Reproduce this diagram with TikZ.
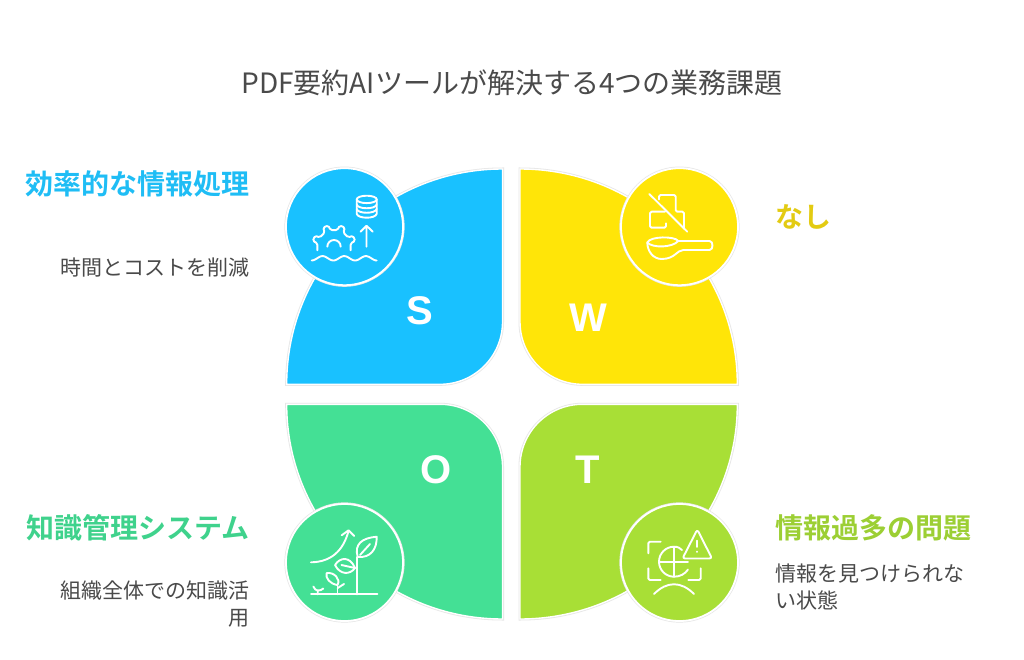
\documentclass[tikz,border=0pt]{standalone}
\usepackage{fontspec}
\setmainfont{Noto Sans CJK JP}
\newfontfamily\jp[BoldFont={Noto Sans CJK JP Bold}]{Noto Sans CJK JP}
\newfontfamily\latinb[BoldFont={Liberation Sans Bold}]{Liberation Sans}
\definecolor{cS}{HTML}{19C1FF}
\definecolor{cW}{HTML}{FFE508}
\definecolor{cO}{HTML}{44E095}
\definecolor{cT}{HTML}{A8DF36}
\definecolor{tS}{HTML}{1FBDF5}
\definecolor{tW}{HTML}{E3CB12}
\definecolor{tO}{HTML}{3FD28C}
\definecolor{tT}{HTML}{9CCF34}
\definecolor{ink}{HTML}{4A4A4A}
\definecolor{halo}{HTML}{E6E6E6}
\tikzset{
  leaf/.style={fill=#1,draw=white,line width=1.4pt,preaction={draw=halo,line width=3pt}},
  badge/.style={circle,minimum size=117pt,inner sep=0pt,fill=#1,draw=white,line width=1.8pt,preaction={draw=halo,line width=3.2pt}},
  ico/.style={draw=white,line width=1.9pt,line cap=round,line join=round},
  letter/.style={text=white,inner sep=0pt,font=\latinb\bfseries\fontsize{40}{40}\selectfont},
  head/.style={inner sep=0pt,anchor=west,font=\jp\bfseries\fontsize{28}{34}\selectfont},
  headr/.style={inner sep=0pt,anchor=east,font=\jp\bfseries\fontsize{28}{34}\selectfont},
  body/.style={inner sep=0pt,text=ink,font=\jp\fontsize{21}{27}\selectfont},
}
\begin{document}
\begin{tikzpicture}[x=1pt,y=-1pt]
\useasboundingbox (0,0) rectangle (1024,660);
\fill[white] (0,0) rectangle (1024,660);
% leaves
\path[leaf=cS] (502.5,169) arc[start angle=-90,end angle=-180,x radius=215.8,y radius=215.3] -- (440,384.3) arc[start angle=90,end angle=0,radius=62.5] -- cycle;
\path[leaf=cW] (520,169) arc[start angle=-90,end angle=0,x radius=217.3,y radius=215.3] -- (582.5,384.3) arc[start angle=90,end angle=180,radius=62.5] -- cycle;
\path[leaf=cO] (502.5,619) arc[start angle=90,end angle=180,x radius=215.8,y radius=214.7] -- (440,404.3) arc[start angle=-90,end angle=0,radius=62.5] -- cycle;
\path[leaf=cT] (520,619) arc[start angle=90,end angle=0,x radius=217.3,y radius=214.7] -- (582.5,404.3) arc[start angle=-90,end angle=-180,radius=62.5] -- cycle;
% badges
\node[badge=cS] (bS) at (344.5,226.7) {};
\node[badge=cW] (bW) at (679.5,226.7) {};
\node[badge=cO] (bO) at (344.5,562.5) {};
\node[badge=cT] (bT) at (679.5,562.5) {};
% letters
\node[letter] (lS) at (420,311) {S};
\node[letter] (lW) at (588,318) {W};
\node[letter] (lO) at (436,470) {O};
\node[letter] (lT) at (588,470) {T};
% title and labels
\node[inner sep=0pt,text=ink,font=\jp\fontsize{28}{32}\selectfont] (title) at (512,83) {PDF要約AIツールが解決する4つの業務課題};
\node[headr,text=tS] (hS) at (249.5,184) {効率的な情報処理};
\node[head,text=tW] (hW) at (775.5,216.5) {なし};
\node[headr,text=tO] (hO) at (249.5,527.5) {知識管理システム};
\node[head,text=tT] (hT) at (775.5,527.5) {情報過多の問題};
\node[body,anchor=east] (dS) at (249.5,268) {時間とコストを削減};
\node[body,anchor=east,align=right] (dO) at (249.5,604) {組織全体での知識活\\用};
\node[body,anchor=west,align=left] (dT) at (775.5,586.5) {情報を見つけられな\\い状態};
% S icon: database
\draw[ico] (366.7,199.4) ellipse[x radius=10,y radius=3.7];
\draw[ico] (356.7,199.4) -- (356.7,213.8) .. controls (358,219) and (375.4,219) .. (376.7,213.8) -- (376.7,199.4);
\draw[ico] (356.7,204.5) .. controls (358,209.5) and (375.4,209.5) .. (376.7,204.5);
\draw[ico] (356.7,209) .. controls (358,214) and (375.4,214) .. (376.7,209);
% S icon: arrow
\draw[ico] (366.5,246.7) -- (366.5,226) (360.5,231.7) -- (366.5,225.7) -- (372.8,231.7);
% S icon: gear
\begin{scope}[shift={(334,246.7)}]
\draw[ico,rounded corners=1.6pt] (-12:17pt) -- (12:17pt) -- (15:22pt) -- (30:22pt) -- (33:17pt) -- (57:17pt) -- (60:22pt) -- (75:22pt) -- (78:17pt) -- (102:17pt) -- (105:22pt) -- (120:22pt) -- (123:17pt) -- (147:17pt) -- (150:22pt) -- (165:22pt) -- (168:17pt) -- (192:17pt);
\end{scope}
\draw[ico] (327.3,246.7) arc[start angle=180,end angle=360,radius=6.7];
\draw[ico] plot[domain=0:65,samples=70,smooth] ({311.7+\x},{258.3+2.2*cos(\x*16.6)});
% W icon: crossed boxes
\draw[ico] (649.3,194) -- (687.3,231.7);
\draw[ico,rounded corners=1.5pt] (659,199.5) -- (659,195) -- (675.7,195) -- (675.7,211.7) -- (684,211.7) -- (684,228.5);
\draw[ico,rounded corners=1.5pt] (665,211.7) -- (650,211.7) -- (650,227.7) -- (666,227.7) -- (666,223.3);
% W icon: spoon
\draw[ico] (647.3,242.5) .. controls (650,236) and (675,236) .. (678.3,241) -- (709.5,241) .. controls (713.5,241) and (713.5,250) .. (709.5,250) -- (683.3,250) .. controls (677,250) and (675,259) .. (661.7,259) .. controls (653,259) and (647.3,251) .. (647.3,242.5);
\draw[ico] (647.3,242.5) .. controls (652,248) and (672,248) .. (678.3,241);
% O icon: ground and arrow
\draw[ico] (311,594.3) -- (377.3,594.3);
\draw[ico] (311,562.3) .. controls (331.7,562) and (343.3,550) .. (348.3,531.7);
\draw[ico] (341.7,535.3) -- (348.5,530.3) -- (354.3,536);
% O icon: plants
\draw[ico] (357.3,594.3) -- (357.3,557);
\draw[ico] (357.7,557) .. controls (354,544) and (362,538) .. (376.7,536.7) .. controls (377,550) and (370,558) .. (357.7,557);
\draw[ico] (360,555) -- (370,544);
\draw[ico] (335,565) .. controls (340,557) and (350,556) .. (355,568) .. controls (350,575) and (340,575) .. (335,565);
\draw[ico] (341.5,565) -- (355,568);
\draw[ico] (337.5,594.3) -- (337.5,585);
\draw[ico] (337.5,585) .. controls (330,584) and (325,578) .. (326.7,573) .. controls (334,572) and (341,579) .. (337.5,585);
\draw[ico] (337.7,588) -- (344,584);
\draw[ico] (317.7,594.3) -- (317.7,590.5) (313.3,586.5) .. controls (314.5,589) and (316,590.5) .. (317.7,590.5) .. controls (320,590.5) and (322,590) .. (323.3,588.5);
% T icon: brackets
\draw[ico,rounded corners=1.5pt] (660.7,541.7) -- (648.3,541.7) -- (648.3,553.3);
\draw[ico,rounded corners=1.5pt] (648.3,568.3) -- (648.3,580) -- (660.7,580);
\draw[ico,rounded corners=1.5pt] (688.3,580) -- (700.7,580) -- (700.7,568.3);
% T icon: globe
\draw[ico] (674,546.7) .. controls (665.7,546.7) and (659,553.4) .. (659,561.7) .. controls (659,570) and (665.7,576.7) .. (674,576.7) .. controls (680,576.7) and (685,574) .. (688,569.5);
\draw[ico] (674,546.7) .. controls (678,546.7) and (680,548) .. (682,550);
\draw[ico] (674,546.7) -- (674,576.7) (659,561.7) -- (688,561.7);
% T icon: warning
\draw[ico,rounded corners=2.5pt] (697.3,529.5) -- (682.5,558.5) -- (712,558.5) -- cycle;
\draw[ico] (697.3,540.7) -- (697.3,546.8) (697.3,551.5) -- (697.3,551.8);
% T icon: frown
\draw[ico] (654,594) .. controls (667,581) and (681,581) .. (694,594);
\end{tikzpicture}
\end{document}
